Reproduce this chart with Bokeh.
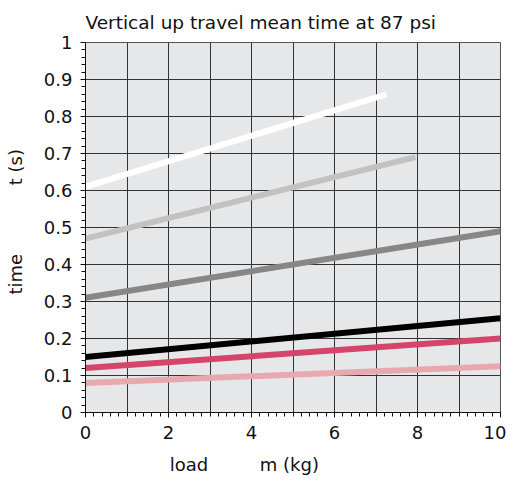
from bokeh.plotting import figure
from bokeh.models import FixedTicker, Grid, Range1d
from bokeh.embed import file_html
from bokeh.resources import INLINE

# data (load in kg, time in s)
x_white = [0, 7.25]
y_white = [0.61, 0.86]
x_lgrey = [0, 7.95]
y_lgrey = [0.47, 0.69]
x_grey = [0, 10]
y_grey = [0.31, 0.49]
x_black = [0, 10]
y_black = [0.15, 0.255]
x_red = [0, 10]
y_red = [0.12, 0.20]
x_pink = [0, 10]
y_pink = [0.08, 0.125]

x_ticks = [0, 2, 4, 6, 8, 10]
x_grid = list(range(11))
y_ticks = [round(i * 0.1, 1) for i in range(11)]

FONT = "DejaVu Sans"
NB = "\u00a0"
H = 477

p = figure(width=506, height=H, output_backend="svg", toolbar_location=None,
           x_range=Range1d(0, 10), y_range=Range1d(0, 1),
           min_border_left=85, min_border_right=6, min_border_top=42, min_border_bottom=64)
p.background_fill_color = "#e6e7e9"
p.border_fill_color = "white"
p.outline_line_color = "#555555"

p.title.text = "Vertical up travel mean time at 87 psi"
p.title.text_font = FONT
p.title.text_font_size = "18.5px"
p.title.text_font_style = "normal"
p.title.text_color = "#111111"
p.title.offset = 0
p.title.standoff = 19

p.xgrid.visible = False
p.ygrid.visible = False
p.add_layout(Grid(dimension=0, ticker=FixedTicker(ticks=x_grid), grid_line_color="#333333", grid_line_width=1))
p.add_layout(Grid(dimension=1, ticker=FixedTicker(ticks=y_ticks), grid_line_color="#333333", grid_line_width=1))

p.xaxis.ticker = FixedTicker(ticks=x_ticks, minor_ticks=[i * 0.2 for i in range(51)])
p.yaxis.ticker = FixedTicker(ticks=y_ticks, minor_ticks=[i * 0.02 for i in range(51)])
p.yaxis.major_label_overrides = {0: "0", 1: "1"}
for ax in (p.xaxis, p.yaxis):
    ax.major_label_text_font = FONT
    ax.major_label_text_font_size = "18px"
    ax.major_label_text_color = "#111111"
    ax.axis_line_color = "#111111"
    ax.major_tick_line_color = "#111111"
    ax.minor_tick_line_color = "#111111"
    ax.major_tick_out = 5
    ax.major_tick_in = 0
    ax.minor_tick_out = 4
    ax.minor_tick_in = 0
    ax.axis_label_text_font = FONT
    ax.axis_label_text_font_size = "18px"
    ax.axis_label_text_font_style = "normal"
    ax.axis_label_text_color = "#111111"
p.xaxis.major_label_standoff = 8
p.yaxis.major_label_standoff = 8

p.xaxis.axis_label = "load" + NB * 9 + "m (kg)" + NB * 17
p.yaxis.axis_label = NB * 2 + "time" + NB * 12 + "t (s)"
p.xaxis.axis_label_standoff = 12
p.yaxis.axis_label_standoff = 15

series = [
    (x_pink, y_pink, "#e8a9ae"),
    (x_red, y_red, "#d5446a"),
    (x_black, y_black, "#000000"),
    (x_grey, y_grey, "#878787"),
    (x_lgrey, y_lgrey, "#c2c2c2"),
    (x_white, y_white, "#ffffff"),
]
for xs, ys, c in series:
    p.line(xs, ys, line_color=c, line_width=6)

open("out.html", "w").write(file_html(p, INLINE))
